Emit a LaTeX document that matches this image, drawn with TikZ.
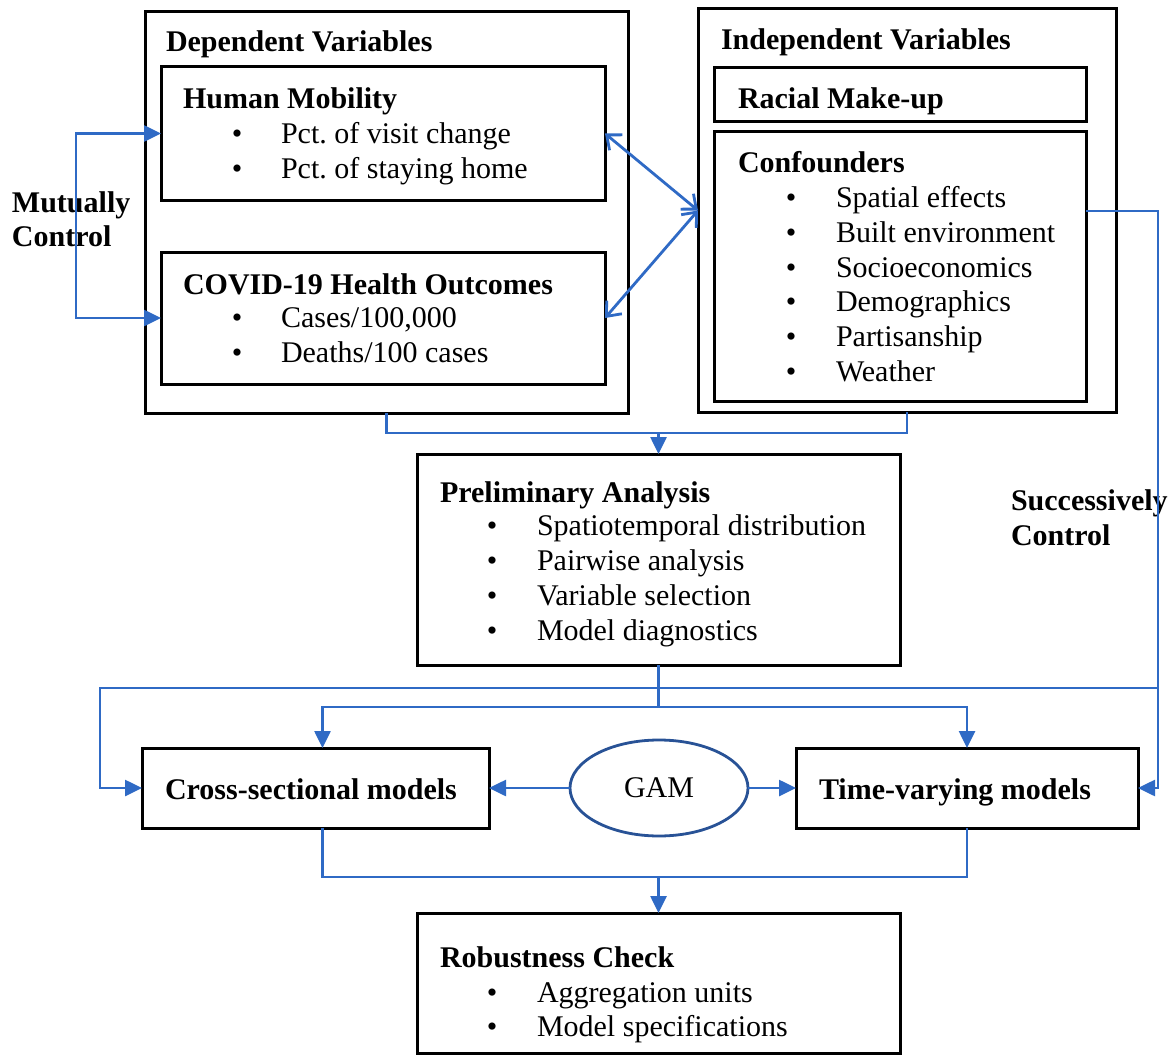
\documentclass[tikz,border=0pt]{standalone}
\usepackage{fontspec}
\setmainfont{Liberation Serif}
\usetikzlibrary{arrows.meta,shapes.geometric}
\definecolor{arrblue}{RGB}{47,106,197}
\definecolor{ellblue}{RGB}{40,82,150}
\tikzset{
  box/.style={draw=black,line width=3pt,inner sep=0pt,outer sep=0pt},
  txt/.style={inner sep=0pt,outer sep=0pt,font=\fontsize{30pt}{36pt}\selectfont},
  hd/.style={txt,font=\fontsize{30pt}{36pt}\selectfont\bfseries},
  bl/.style={txt,anchor=base},
  it/.style={txt,anchor=base west},
  conn/.style={draw=arrblue,line width=2.6pt},
  arr/.style={conn,-{Triangle[length=17pt,width=16pt]}},
  arrboth/.style={conn,{Triangle[length=17pt,width=16pt]}-{Triangle[length=17pt,width=16pt]}},
  barbboth/.style={conn,line width=2.8pt,{Straight Barb[length=12pt,width=20pt,line width=2.8pt]}-{Straight Barb[length=12pt,width=20pt,line width=2.8pt]}}
}
\frenchspacing
\begin{document}
\begin{tikzpicture}[x=1pt,y=-1pt]
\useasboundingbox[fill=white] (0,0) rectangle (1171,1057);
% boxes
\node[box,minimum width=483pt,minimum height=401pt] (dep) at (386.5,212.5) {};
\node[box,minimum width=444pt,minimum height=133pt] (hm) at (383,133.5) {};
\node[box,minimum width=444pt,minimum height=132pt] (cov) at (383,318) {};
\node[box,minimum width=418pt,minimum height=403pt] (ind) at (907,210.5) {};
\node[box,minimum width=372pt,minimum height=53pt] (rac) at (900,94.5) {};
\node[box,minimum width=372pt,minimum height=270pt] (conf) at (900,266) {};
\node[box,minimum width=483pt,minimum height=211pt] (pre) at (658.5,559.5) {};
\node[box,minimum width=347pt,minimum height=80pt] (cs) at (315.5,788) {};
\node[box,minimum width=342pt,minimum height=80pt] (tv) at (967,788) {};
\node[ellipse,draw=ellblue,line width=2.8pt,minimum width=178pt,minimum height=96pt,inner sep=0pt,outer sep=0pt,font=\fontsize{30pt}{36pt}\selectfont] (gam) at (659,788) {GAM};
\node[box,minimum width=483pt,minimum height=140pt] (rob) at (658.5,983) {};
% texts
\node[hd,anchor=base west] (tdep) at (166,52) {Dependent Variables};
\node[hd,anchor=base west] (thm) at (183,109) {Human Mobility};
\node[bl] (b1) at (237,143) {•};
\node[it] (t1) at (281,143) {Pct. of visit change};
\node[bl] (b2) at (237,178) {•};
\node[it] (t2) at (281,178) {Pct. of staying home};
\node[hd,anchor=base west] (tcov) at (183,294) {COVID-19 Health Outcomes};
\node[bl] (b3) at (237,327) {•};
\node[it] (t3) at (281,327) {Cases/100,000};
\node[bl] (b4) at (237,362) {•};
\node[it] (t4) at (281,362) {Deaths/100 cases};
\node[hd,anchor=base west] (tind) at (721,50) {Independent Variables};
\node[hd,anchor=base west] (trac) at (738,108) {Racial Make-up};
\node[hd,anchor=base west] (tconf) at (738,172) {Confounders};
\node[bl] (c1) at (791,207) {•};
\node[it] (tc1) at (836,207) {Spatial effects};
\node[bl] (c2) at (791,242) {•};
\node[it] (tc2) at (836,242) {Built environment};
\node[bl] (c3) at (791,277) {•};
\node[it] (tc3) at (836,277) {Socioeconomics};
\node[bl] (c4) at (791,311) {•};
\node[it] (tc4) at (836,311) {Demographics};
\node[bl] (c5) at (791,346) {•};
\node[it] (tc5) at (836,346) {Partisanship};
\node[bl] (c6) at (791,381) {•};
\node[it] (tc6) at (836,381) {Weather};
\node[hd,anchor=base west] (tpre) at (440,502) {Preliminary Analysis};
\node[bl] (p1) at (492,535) {•};
\node[it] (tp1) at (537,535) {Spatiotemporal distribution};
\node[bl] (p2) at (492,570) {•};
\node[it] (tp2) at (537,570) {Pairwise analysis};
\node[bl] (p3) at (492,605) {•};
\node[it] (tp3) at (537,605) {Variable selection};
\node[bl] (p4) at (492,640) {•};
\node[it] (tp4) at (537,640) {Model diagnostics};
\node[hd,anchor=base west] (tcs) at (165,799) {Cross-sectional models};
\node[hd,anchor=base west] (ttv) at (819,799) {Time-varying models};
\node[hd,anchor=base west] (trob) at (440,967) {Robustness Check};
\node[bl] (r1) at (492,1002) {•};
\node[it] (tr1) at (537,1002) {Aggregation units};
\node[bl] (r2) at (492,1036) {•};
\node[it] (tr2) at (537,1036) {Model specifications};
\node[hd,anchor=base west] (mc1) at (12,212) {Mutually};
\node[hd,anchor=base west] (mc2) at (12,246) {Control};
\node[hd,anchor=base west] (sc1) at (1011,510) {Successively};
\node[hd,anchor=base west] (sc2) at (1011,545) {Control};
% connectors
\draw[arrboth] (hm.west) -- ++(-85,0) |- (cov.west);
\draw[barbboth] (hm.east) -- (ind.west);
\draw[barbboth] (cov.east) -- (ind.west);
\coordinate (j1) at (658.5,433);
\draw[conn] (dep.south) |- (j1) -| (ind.south);
\draw[arr] (j1) -- (pre.north);
\coordinate (sc) at (1158,211);
\draw[arr] ([yshift=55pt]conf.east) -- (sc) |- (tv.east);
\coordinate (sj) at (1158,688);
\draw[arr] (sj) -- (100,688) |- (cs.west);
\coordinate (pj) at (658.5,707);
\draw[conn] (pre.south) -- (pj);
\draw[arr] (pj) -| ([xshift=7pt]cs.north);
\draw[arr] (pj) -| (tv.north);
\draw[arr] (gam) -- (cs);
\draw[arr] (gam) -- (tv);
\coordinate (bj) at (658.5,877);
\draw[conn] ([xshift=7pt]cs.south) |- (bj) -| (tv.south);
\draw[arr] (bj) -- (rob.north);
\end{tikzpicture}
\end{document}
